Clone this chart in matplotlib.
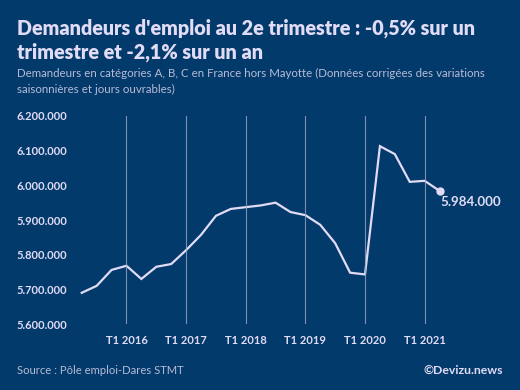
import matplotlib
matplotlib.use('Agg')
from matplotlib import pyplot as pl

# Demandeurs d'emploi cat. A, B, C (T2 2015 -> T2 2021)
quarters = ['T2 2015', 'T3 2015', 'T4 2015',
            'T1 2016', 'T2 2016', 'T3 2016', 'T4 2016',
            'T1 2017', 'T2 2017', 'T3 2017', 'T4 2017',
            'T1 2018', 'T2 2018', 'T3 2018', 'T4 2018',
            'T1 2019', 'T2 2019', 'T3 2019', 'T4 2019',
            'T1 2020', 'T2 2020', 'T3 2020', 'T4 2020',
            'T1 2021', 'T2 2021']
values = [5690000, 5710000, 5756000,
          5768000, 5730000, 5765000, 5773000,
          5813000, 5857000, 5912000, 5932000,
          5937000, 5942000, 5950000, 5923000,
          5914000, 5886000, 5833000, 5748000,
          5743000, 6113000, 6090000, 6010000,
          6013000, 5984000]
yticks = [5600000, 5700000, 5800000, 5900000, 6000000, 6100000, 6200000]
xlabels = ['T1 2016', 'T1 2017', 'T1 2018', 'T1 2019', 'T1 2020', 'T1 2021']

bg = '#023b6b'
fg = '#e2dbf6'
sub = '#b9bad6'
font = 'Lato'


def fmt(v):
    return '{:,}'.format(v).replace(',', '.')


fig = pl.figure(figsize=(5.2, 3.9), dpi=100, facecolor=bg)
ax = fig.add_axes([78/520, 1-324/390, (450-78)/520, (324-116)/390])
ax.set_facecolor(bg)

x = list(range(len(values)))
ax.plot(x, values, color=fg, linewidth=1.6, solid_joinstyle='miter')
ax.plot(x[-1], values[-1], 'o', color=fg, markersize=5)
ax.text(x[-1] + 0.05, values[-1] - 32000, fmt(values[-1]), color=fg,
        fontsize=9.6, fontweight='bold', family=font, ha='left', va='center')

xpos = [quarters.index(q) for q in xlabels]
for p in xpos:
    ax.axvline(p, color='#9aa6c4', linewidth=0.8, alpha=0.8)

ax.set_xlim(-0.25, 24.7)
ax.set_ylim(5600000, 6200000)
ax.set_xticks(xpos)
ax.set_xticklabels(xlabels)
ax.set_yticks(yticks)
ax.set_yticklabels([fmt(v) for v in yticks])
ax.tick_params(length=0, colors=fg, labelsize=8, pad=8)
for lab in ax.get_xticklabels() + ax.get_yticklabels():
    lab.set_fontweight('bold')
    lab.set_family(font)
for s in ax.spines.values():
    s.set_visible(False)

fig.text(17/520, 1-34/390,
         "Demandeurs d'emploi au 2e trimestre : -0,5% sur un",
         color=fg, fontsize=14.2, fontweight='heavy', family=font)
fig.text(17/520, 1-59/390, 'trimestre et -2,1% sur un an',
         color=fg, fontsize=14.2, fontweight='heavy', family=font)
fig.text(17/520, 1-77/390,
         'Demandeurs en catégories A, B, C en France hors Mayotte '
         '(Données corrigées des variations',
         color=sub, fontsize=8.25, family=font)
fig.text(17/520, 1-93/390, 'saisonnières et jours ouvrables)',
         color=sub, fontsize=8.25, family=font)
fig.text(17/520, 1-374/390, 'Source : Pôle emploi-Dares STMT',
         color=sub, fontsize=8.1, family=font)
fig.text(503/520, 1-374/390, '©Devizu.news', color=fg, fontsize=8.8,
         fontweight='bold', family=font, ha='right')

fig.savefig('out.png', dpi=100, facecolor=bg)
